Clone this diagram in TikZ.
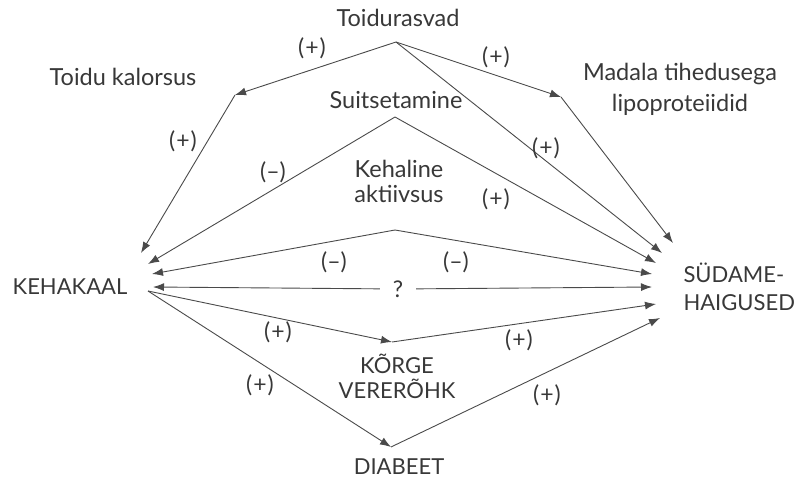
\documentclass[tikz,border=0pt]{standalone}
\usepackage{fontspec}
\setmainfont{Lato}
\usetikzlibrary{arrows.meta}
\definecolor{txtgray}{HTML}{383838}
\definecolor{lngray}{HTML}{4A4A4A}

\begin{document}
\begin{tikzpicture}[x=1pt,y=-1pt,
  >={Latex[length=11pt,width=8pt]},
  every node/.style={text=txtgray, font=\fontsize{23.5}{25}\selectfont},
  caps/.style={font=\fontsize{22}{25}\selectfont},
  link/.style={draw=lngray, line width=0.9pt},
  sign/.style={font=\fontsize{23}{25}\selectfont}]
\useasboundingbox (0,0) rectangle (801,484);

\node[] (TR) at (398,18) {Toidurasvad};
\node[] (TK) at (123,77) {Toidu kalorsus};
\node[align=center] (ML) at (680,89) {Madala tihedusega\\[6pt]lipoproteiidid};
\node[] (SU) at (396,100) {Suitsetamine};
\node[align=center] (KA) at (399,181) {Kehaline\\aktiivsus};
\node[caps] (KE) at (70,287) {KEHAKAAL};
\node[caps, align=left, anchor=west] (SH) at (680,287) {SÜDAME-\\[3pt]HAIGUSED};
\node[caps, align=center] (KV) at (397,376) {KÕRGE\\VERERÕHK};
\node[caps] (DI) at (399,467) {DIABEET};
\node[sign, inner sep=0pt, minimum width=36pt] (Q) at (398,289) {?};

\coordinate (T) at (396,42);
\coordinate (C) at (235,95);
\coordinate (M) at (561,97);
\coordinate (P) at (395,117);
\coordinate (A) at (395,230);
\coordinate (B) at (392,342);
\coordinate (D) at (391,447);

\coordinate (k0) at (148,291);
\coordinate (k1) at (141,253);
\coordinate (k2) at (148,264);
\coordinate (k3) at (152,274);
\coordinate (k4) at (153,287);

\coordinate (s1) at (673,243);
\coordinate (s2) at (662,253);
\coordinate (s3) at (656,263);
\coordinate (s4) at (652,274);
\coordinate (s5) at (652,287);
\coordinate (s6) at (656,304);
\coordinate (s7) at (660,318);

\draw[link,->] (T) -- (C);
\draw[link,->] (C) -- (k1);
\draw[link,->] (T) -- (M);
\draw[link,->] (M) -- (s1);
\draw[link,->] (T) -- (s2);
\draw[link,->] (P) -- (k2);
\draw[link,->] (P) -- (s3);
\draw[link,->] (A) -- (k3);
\draw[link,->] (A) -- (s4);
\draw[link,->] (Q) -- (k4);
\draw[link,->] (Q) -- (s5);
\draw[link,->] (k0) -- (B);
\draw[link,->] (B) -- (s6);
\draw[link,->] (k0) -- (D);
\draw[link,->] (D) -- (s7);

\node[sign] (tc) at (312,48) {(\kern1pt+\kern1pt)};
\node[sign] (tm) at (496,57) {(\kern1pt+\kern1pt)};
\node[sign] (ck) at (183,141) {(\kern1pt+\kern1pt)};
\node[sign] (pk) at (273,172) {(--)};
\node[sign] (ts) at (546,148) {(\kern1pt+\kern1pt)};
\node[sign] (ps) at (496,199) {(\kern1pt+\kern1pt)};
\node[sign] (ak) at (334,262) {(--)};
\node[sign] (as) at (456,262) {(--)};
\node[sign] (kb) at (278,332) {(\kern1pt+\kern1pt)};
\node[sign] (bs) at (519,340) {(\kern1pt+\kern1pt)};
\node[sign] (kd) at (260,385) {(\kern1pt+\kern1pt)};
\node[sign] (ds) at (547,395) {(\kern1pt+\kern1pt)};
\end{tikzpicture}
\end{document}
